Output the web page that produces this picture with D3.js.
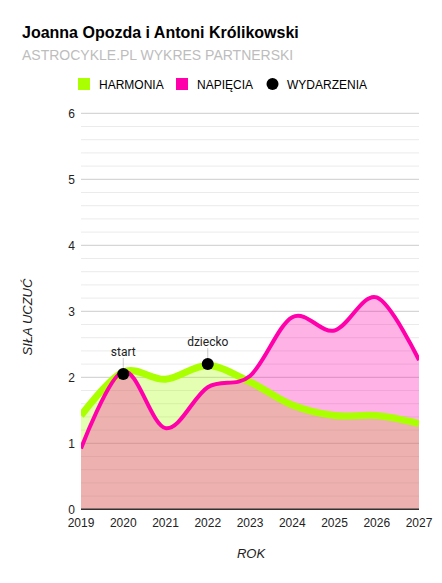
<!DOCTYPE html>
<html>
<head>
<meta charset="utf-8">
<script src="https://cdn.jsdelivr.net/npm/d3@7"></script>
<style>
  body { margin: 0; background: #fff; }
  svg { display: block; font-family: Arial, "Liberation Sans", sans-serif; }
</style>
</head>
<body>
<svg id="chart" width="442" height="583"></svg>
<script>
// chart values
let years = [2019, 2020, 2021, 2022, 2023, 2024, 2025, 2026, 2027]
let harmonia = [1.42, 2.08, 1.97, 2.18, 1.93, 1.58, 1.42, 1.42, 1.30]
let napiecia = [0.92, 2.09, 1.23, 1.85, 2.02, 2.91, 2.71, 3.21, 2.26]
let eventYears = [2020, 2022]
let eventValues = [2.05, 2.2]
let eventLabels = ["start", "dziecko"]
let yTicks = [0, 1, 2, 3, 4, 5, 6]

var svg = d3.select("#chart")
var marge = {top: 113.3, bottom: 73.7, left: 81, right: 23}
var width = +svg.attr("width")
var height = +svg.attr("height")

var xScale = d3.scaleLinear()
    .domain([2019, 2027])
    .range([marge.left, width - marge.right])
var yScale = d3.scaleLinear()
    .domain([0, 6])
    .range([height - marge.bottom, marge.top])

// title + subtitle
svg.append("text").text("Joanna Opozda i Antoni Królikowski")
    .attr("x", 22).attr("y", 38)
    .style("font-size", "16px").style("font-weight", "bold").attr("fill", "#000")
svg.append("text").text("ASTROCYKLE.PL WYKRES PARTNERSKI")
    .attr("x", 22).attr("y", 60)
    .style("font-size", "14px").attr("fill", "#bdbdbd")

// legend
var legend = svg.append("g").attr("id", "legend")
legend.append("rect").attr("x", 78).attr("y", 78).attr("width", 12).attr("height", 12).attr("fill", "#aaff00")
legend.append("text").text("HARMONIA").attr("x", 99).attr("y", 89).style("font-size", "12px")
legend.append("rect").attr("x", 176).attr("y", 78).attr("width", 12).attr("height", 12).attr("fill", "#ff00aa")
legend.append("text").text("NAPIĘCIA").attr("x", 197).attr("y", 89).style("font-size", "12px")
legend.append("circle").attr("cx", 272.5).attr("cy", 84).attr("r", 6).attr("fill", "#000")
legend.append("text").text("WYDARZENIA").attr("x", 287).attr("y", 89).style("font-size", "12px")

// gridlines (minor every 0.2, major every 1)
var minor = d3.range(0, 6.01, 0.2).filter(d => Math.abs(d - Math.round(d)) > 0.01)
svg.append("g").attr("id", "minor").selectAll("line")
    .data(minor)
    .join("line")
    .attr("x1", marge.left).attr("x2", width - marge.right)
    .attr("y1", d => yScale(d)).attr("y2", d => yScale(d))
    .attr("stroke", "#ebebeb").attr("stroke-width", 1)
svg.append("g").attr("id", "major").selectAll("line")
    .data(yTicks.slice(1))
    .join("line")
    .attr("x1", marge.left).attr("x2", width - marge.right)
    .attr("y1", d => yScale(d)).attr("y2", d => yScale(d))
    .attr("stroke", "#cccccc").attr("stroke-width", 1)

// areas and lines
var curve = d3.curveCardinal.tension(0)
var pts = years.map((y, i) => i)
var areaH = d3.area().curve(curve)
    .x(i => xScale(years[i])).y0(yScale(0)).y1(i => yScale(harmonia[i]))
var areaN = d3.area().curve(curve)
    .x(i => xScale(years[i])).y0(yScale(0)).y1(i => yScale(napiecia[i]))
var lineH = d3.line().curve(curve)
    .x(i => xScale(years[i])).y(i => yScale(harmonia[i]))
var lineN = d3.line().curve(curve)
    .x(i => xScale(years[i])).y(i => yScale(napiecia[i]))

var clip = svg.append("clipPath").attr("id", "plotclip").append("rect")
    .attr("x", marge.left).attr("y", marge.top)
    .attr("width", width - marge.left - marge.right)
    .attr("height", height - marge.top - marge.bottom)

var plot = svg.append("g").attr("clip-path", "url(#plotclip)")
plot.append("path").attr("d", areaH(pts)).attr("fill", "#aaff00").attr("opacity", 0.3)
plot.append("path").attr("d", areaN(pts)).attr("fill", "#ff00aa").attr("opacity", 0.3)
plot.append("path").attr("d", lineH(pts)).attr("fill", "none")
    .attr("stroke", "#aaff00").attr("stroke-width", 7).attr("stroke-linejoin", "round")
plot.append("path").attr("d", lineN(pts)).attr("fill", "none")
    .attr("stroke", "#ff00aa").attr("stroke-width", 4).attr("stroke-linejoin", "round")

// events
var ev = svg.append("g").attr("id", "events")
eventYears.forEach(function(y, i) {
    var cx = xScale(y), cy = yScale(eventValues[i])
    ev.append("line").attr("x1", cx).attr("x2", cx).attr("y1", cy - 16).attr("y2", cy)
        .attr("stroke", "#999").attr("stroke-width", 1).attr("opacity", 0.5)
    ev.append("circle").attr("cx", cx).attr("cy", cy).attr("r", 6).attr("fill", "#000")
    ev.append("text").text(eventLabels[i]).attr("x", cx).attr("y", cy - 18)
        .attr("text-anchor", "middle").style("font-size", "12px")
        .style("font-family", "Roboto, Arial, sans-serif").attr("fill", "#222")
})

// baseline
svg.append("line").attr("x1", marge.left).attr("x2", width - marge.right)
    .attr("y1", yScale(0)).attr("y2", yScale(0)).attr("stroke", "#333").attr("stroke-width", 1.5)

// axes labels
svg.append("g").selectAll("text")
    .data(yTicks)
    .join("text")
    .attr("x", 75).attr("y", d => yScale(d) + 4.5)
    .attr("text-anchor", "end").style("font-size", "12px").attr("fill", "#222")
    .text(d => d)
svg.append("g").selectAll("text")
    .data(years)
    .join("text")
    .attr("x", d => xScale(d)).attr("y", 527)
    .attr("text-anchor", "middle").style("font-size", "12px").attr("fill", "#222")
    .text(d => d)

svg.append("text").text("ROK").attr("x", 251).attr("y", 558)
    .attr("text-anchor", "middle").style("font-size", "13px").style("font-style", "italic").attr("fill", "#222")
svg.append("text").text("SIŁA UCZUĆ")
    .attr("transform", "translate(32,317) rotate(-90)")
    .attr("text-anchor", "middle").style("font-size", "13px").style("font-style", "italic").attr("fill", "#222")
</script>
</body>
</html>
